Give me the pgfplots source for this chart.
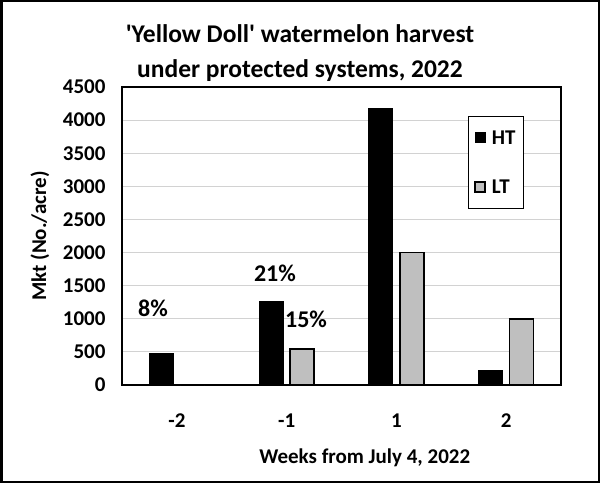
\documentclass[border=0pt]{standalone}
\usepackage{fontspec}
\setmainfont{Carlito}
\usepackage{pgfplots}
\pgfplotsset{compat=1.18}
\definecolor{ltgray}{RGB}{191,191,191}
\definecolor{gridgray}{RGB}{210,210,210}
\begin{document}
\begin{tikzpicture}[x=1pt,y=1pt]
\useasboundingbox (0,0) rectangle (600,483);
\draw[line width=2.5pt] (1.25,1.25) rectangle (598.75,481.75);
\node[align=center,font=\fontsize{25.5}{35}\selectfont\bfseries] at (300,430) {\textquotesingle Yellow Doll\textquotesingle{} watermelon harvest\\under protected systems, 2022};
\begin{axis}[
  at={(122pt,98pt)}, anchor=south west,
  scale only axis, width=439pt, height=298pt,
  ybar=7pt, bar width=24pt,
  xmin=-0.5, xmax=3.5,
  ymin=0, ymax=4500,
  xtick={0,1,2,3}, xticklabels={-2,-1,1,2},
  ytick={0,500,...,4500},
  major tick length=0pt,
  ymajorgrids, major grid style={gridgray, line width=0.9pt},
  axis line style={line width=1.5pt},
  /pgf/number format/assume math mode=true,
  /pgf/number format/1000 sep={},
  ticklabel style={font=\fontsize{21}{24}\selectfont\bfseries},
  xticklabel style={yshift=-25pt},
  yticklabel style={xshift=-13pt},
  xlabel={Weeks from July 4, 2022},
  ylabel={Mkt (No./acre)},
  label style={font=\fontsize{21}{24}\selectfont\bfseries},
  xlabel style={at={(axis description cs:0.553,-0.245)}, anchor=center},
  ylabel style={at={(axis description cs:-0.187,0.5)}, anchor=center},
  legend style={at={(axis description cs:0.916,0.903)}, anchor=north east,
    draw=black, line width=1pt, font=\fontsize{21}{24}\selectfont\bfseries,
    row sep=30pt, column sep=4pt, inner xsep=6pt, inner ysep=12pt, cells={anchor=west}},
  legend image code/.code={\draw[#1] (0pt,-5pt) rectangle (10pt,5pt);},
  clip=false,
]
\addplot[fill=black, draw=black, line width=1pt] coordinates {(0,480) (1,1255) (2,4170) (3,220)};
\addlegendentry{HT}
\addplot[fill=ltgray, draw=black, line width=1.5pt] coordinates {(0,0) (1,545) (2,2000) (3,995)};
\addlegendentry{LT}
\node[font=\fontsize{24}{26}\selectfont\bfseries] at (axis cs:-0.218,1163) {8\%};
\node[font=\fontsize{24}{26}\selectfont\bfseries] at (axis cs:0.894,1692) {21\%};
\node[font=\fontsize{24}{26}\selectfont\bfseries] at (axis cs:1.177,997) {15\%};
\end{axis}
\end{tikzpicture}
\end{document}
